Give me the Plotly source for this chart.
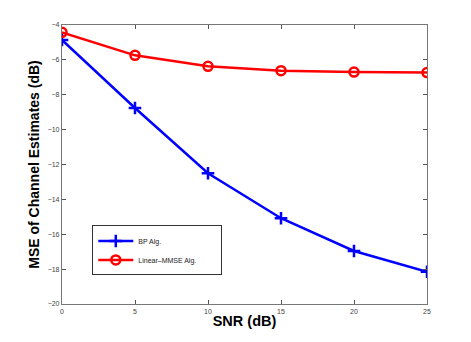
import plotly.graph_objects as go

snr = [0, 5, 10, 15, 20, 25]
bp_mse = [-4.86, -8.76, -12.5, -15.08, -16.96, -18.15]
lmmse_mse = [-4.42, -5.74, -6.37, -6.62, -6.70, -6.73]

x_ticks = [0, 5, 10, 15, 20, 25]
y_ticks = [-20, -18, -16, -14, -12, -10, -8, -6, -4]

FONT = "Liberation Sans, Arial"
PAD = "\u00a0" * 10  # widens the legend box like the original

fig = go.Figure()

fig.add_trace(go.Scatter(
    x=snr, y=bp_mse, name="BP Alg.",
    mode="lines+markers",
    line=dict(color="#0000ff", width=2.5),
    marker=dict(symbol="cross-thin-open", size=9, color="#0000ff",
                line=dict(width=2.5, color="#0000ff")),
))
fig.add_trace(go.Scatter(
    x=snr, y=lmmse_mse, name="Linear\u2013MMSE Alg." + PAD,
    mode="lines+markers",
    line=dict(color="#ff0000", width=2.5),
    marker=dict(symbol="circle-open", size=9, color="#ff0000",
                line=dict(width=2.5, color="#ff0000")),
))

axis_common = dict(
    showgrid=False, zeroline=False,
    ticks="inside", ticklen=4, tickcolor="#555",
    showline=True, linecolor="#777", linewidth=1.2, mirror="ticks",
    tickfont=dict(family=FONT, size=7, color="#444"),
)

# page body adds an 8px offset, so margins are shifted to land the plot area
fig.update_layout(
    width=471, height=342,
    margin=dict(l=54, r=52, t=17, b=46),
    plot_bgcolor="white", paper_bgcolor="white",
    xaxis=dict(
        range=[0, 25], tickvals=x_ticks,
        title=dict(text="<b>SNR (dB)</b>", standoff=2,
                   font=dict(family=FONT, size=14.5, color="black")),
        **axis_common,
    ),
    yaxis=dict(
        range=[-20, -4], tickvals=y_ticks,
        ticktext=[f"\u2212{abs(v)}" for v in y_ticks],
        title=dict(text="<b>MSE of Channel Estimates (dB)</b>", standoff=4,
                   font=dict(family=FONT, size=14, color="black")),
        **axis_common,
    ),
    legend=dict(
        x=0.083, y=0.192, xanchor="left", yanchor="middle",
        bgcolor="white", bordercolor="#333", borderwidth=1,
        font=dict(family=FONT, size=7, color="#222"),
        itemwidth=35, tracegroupgap=0,
    ),
    showlegend=True,
)

fig.write_html("out.html")
